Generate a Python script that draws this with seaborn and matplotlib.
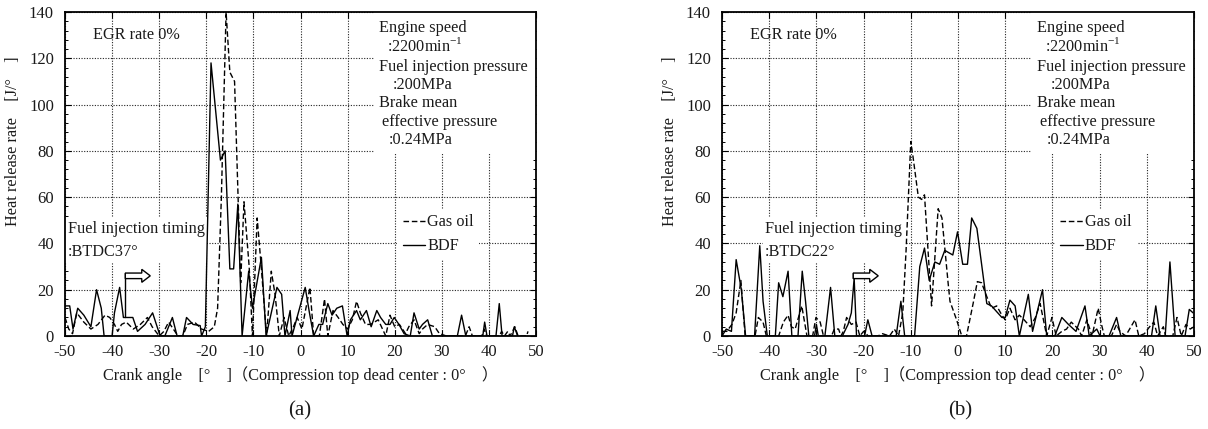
import matplotlib
matplotlib.use("Agg")
import matplotlib.pyplot as plt
import pandas as pd
import seaborn as sns
from matplotlib.patches import Rectangle, FancyArrow
from matplotlib.lines import Line2D
from matplotlib.ticker import MultipleLocator

# ---------------- data (crank angle [deg], heat release rate [J/deg]) ----------------
gas_oil_a = [(-50, 8), (-49.2, 3), (-48.4, 1), (-47.5, 10), (-46, 6), (-44.5, 3), (-43, 5),
             (-41.5, 9), (-40.5, 8), (-39.5, 5), (-38.8, 2), (-38, 5), (-37, 6), (-35.5, 3),
             (-34, 5), (-32.5, 8), (-31.5, 4), (-30, 0), (-29, 2), (-28, 6), (-27, 3), (-26, 0),
             (-25, 0), (-24, 5), (-22.5, 6), (-21, 3), (-19.5, 2), (-18.3, 4), (-17.6, 12),
             (-16.8, 60), (-15.8, 140), (-15, 114), (-14, 110), (-12.7, 23), (-12, 58),
             (-10.9, 30), (-10.2, 0), (-9.2, 51), (-8.3, 29), (-7.2, 0), (-6.2, 28), (-5.4, 18),
             (-4.5, 0), (-3.5, 8), (-2.5, 0), (-1.5, 4), (-0.7, 8), (0.3, 3), (2, 21), (2.8, 0),
             (4, 0), (5.1, 16), (5.8, 0), (6.9, 11), (8, 8), (9, 5), (10, 3), (11, 7), (11.9, 15),
             (12.7, 10), (13.8, 5), (14.9, 5), (16.5, 7), (18.1, 0), (19, 9), (20, 4), (21, 5),
             (22.3, 1), (23, 4), (24.1, 7), (25.2, 1), (25.9, 3), (27, 5), (28.5, 4), (29.5, 1),
             (31, 0), (35, 0), (35.8, 4), (36.5, 0), (38.5, 0), (39, 3), (39.5, 0), (42.2, 0),
             (42.7, 2), (43.3, 0), (44, 2), (44.5, 0), (45.5, 4), (46.2, 0), (48, 0), (48.3, 2)]

bdf_a = [(-50, 13), (-49, 13), (-48.3, 3), (-47.3, 12), (-46, 9), (-44.5, 4), (-43.3, 20),
         (-42.3, 12), (-41.7, 0), (-40, 0), (-39.5, 10), (-38.4, 21), (-37.6, 8), (-35.6, 8),
         (-34.6, 2), (-33, 5), (-31.4, 10), (-29.8, 0), (-28.8, 0), (-27.2, 8), (-26.2, 0),
         (-25, 0), (-24.2, 8), (-22.8, 5), (-21.3, 4.5), (-21, 0), (-20.2, 4), (-19.0, 118),
         (-17, 76), (-16, 80), (-15, 29), (-14.2, 29), (-13.3, 57), (-12.4, 0), (-11, 28),
         (-10.2, 12), (-8.3, 34), (-7.3, 0), (-5, 21), (-4, 18), (-3.3, 0), (-2.2, 11),
         (-1.8, 0), (1, 21), (1.9, 10), (2.8, 0), (3.9, 5), (4.7, 5), (5.8, 14), (6.7, 9),
         (7.7, 12), (8.9, 13), (9.9, 0), (10.6, 7), (11.9, 11), (12.7, 7), (14, 11), (15, 4),
         (16.2, 11), (17, 8), (18.1, 5), (19, 5), (19.9, 8), (20.9, 5), (22, 1), (23.3, 0),
         (24.1, 10), (25.2, 3), (25.9, 5), (27, 7), (28, 0), (33.3, 0), (34.2, 9), (35.1, 0),
         (38.7, 0), (39.1, 6), (39.6, 0), (41.5, 0), (42.2, 14), (42.8, 0), (45, 0), (45.4, 4),
         (46.1, 0)]

gas_oil_b = [(-50, 2), (-49, 2), (-47.9, 5), (-47, 10), (-46, 24), (-45.1, 0), (-43, 0),
             (-42.3, 8), (-41.3, 6), (-40.6, 0), (-38, 0), (-37, 6), (-36, 9), (-35.3, 4),
             (-34.5, 3), (-33.1, 13), (-32, 0), (-30.8, 0), (-30.1, 8), (-29.2, 6), (-28.5, 0),
             (-26.8, 0), (-26.2, 3), (-25.3, 3), (-24.8, 0), (-24.3, 2), (-23.6, 8), (-22.6, 5),
             (-21.6, 6), (-20.8, 0), (-20, 2), (-19, 0), (-17, 0), (-16, 1), (-14.5, 0),
             (-13.5, 3), (-12.6, 0), (-11.7, 10), (-11, 37), (-10, 84), (-9.5, 77), (-8.4, 60),
             (-7.7, 59), (-7.1, 61), (-5.6, 13), (-4.2, 55), (-3.4, 51), (-2.1, 23), (-1.7, 15),
             (-0.3, 7), (0.8, 0), (1.8, 0), (3.2, 14), (4.1, 23.5), (5, 23), (6.1, 17), (7.1, 12),
             (8.2, 13), (9.3, 9), (10, 7), (11, 12), (12.1, 7), (13, 9), (14, 7), (15.3, 4),
             (16.4, 8), (17.4, 14), (18.8, 0), (19.9, 8), (20.8, 0), (22, 2), (23, 3), (24, 6),
             (25.5, 3), (26.2, 0), (27.3, 7), (28.4, 0), (29.7, 12), (30.4, 5), (31, 0),
             (32.5, 0), (33.6, 5), (34.3, 2), (35.5, 0), (37.5, 7), (38.3, 0), (39.5, 1),
             (40.6, 4), (41.5, 6), (42.3, 0), (43.5, 4), (44, 0), (45.5, 0), (46.4, 8), (47.3, 0),
             (48.3, 5), (49.2, 3), (50, 4)]

bdf_b = [(-50, 0), (-49.1, 3), (-48, 2), (-47, 33), (-45.9, 20), (-45, 0), (-43.1, 0), (-42, 39),
         (-41.3, 15), (-40.4, 0), (-38.7, 0), (-38, 23), (-37.1, 17), (-36, 28), (-35.2, 0),
         (-33.9, 0), (-33, 28), (-32.3, 15), (-31.6, 0), (-30.4, 0), (-30, 5), (-29.6, 0),
         (-28.2, 0), (-27, 21), (-26.1, 0), (-24.5, 0), (-23.3, 5), (-22.6, 10), (-22, 25),
         (-21.5, 0), (-19.8, 0), (-19.1, 7), (-18.2, 0), (-13.1, 0), (-12.1, 15), (-11.3, 0),
         (-9.2, 0), (-8.1, 30), (-7.1, 38), (-6.1, 24), (-4.9, 32), (-3.9, 31), (-2.8, 37),
         (-1.1, 35), (-0.1, 45), (1, 31), (2, 31), (2.9, 51), (4, 46.5), (6.1, 14), (7.1, 13),
         (9.3, 8), (10, 8), (11, 15.5), (12.1, 13), (13, 0), (14.9, 18), (15.8, 2), (17.9, 20),
         (18.8, 0), (20.5, 0), (22, 8), (23.4, 5), (25, 2), (26.9, 13), (27.8, 0), (29.4, 3),
         (30.1, 0), (32, 0), (33.6, 8), (34.5, 0), (41, 0), (41.9, 13), (42.8, 0), (43.9, 0),
         (44.9, 32), (46, 0), (48.1, 0), (49, 11.5), (49.8, 10)]

fuels = ["Gas oil", "BDF"]
panel_labels = ["(a)", "(b)"]
injection_timing = [":BTDC37°", ":BTDC22°"]
injection_angle = [-37.2, -22.2]
x_ticks = list(range(-50, 51, 10))
y_ticks = list(range(0, 141, 20))
conditions = ["Engine speed", ":2200min$^{\\mathregular{-1}}$", "Fuel injection pressure",
              ":200MPa", "Brake mean", "effective pressure", ":0.24MPa"]
egr_text = "EGR rate 0%"

# ---------------- style ----------------
sns.set_theme(style="ticks")
plt.rcParams["font.family"] = ["Liberation Serif", "Noto Sans CJK JP"]
plt.rcParams["mathtext.fontset"] = "custom"
plt.rcParams["mathtext.rm"] = "Liberation Serif"
plt.rcParams["axes.unicode_minus"] = False
FS = 11.7
TFS = 12
TXT = "#1a1a1a"

fig = plt.figure(figsize=(12.08, 4.29), dpi=100)
W, H = 1208, 429
ax_a = fig.add_axes([65 / W, (H - 336) / H, 471 / W, 324 / H])
ax_b = fig.add_axes([722 / W, (H - 336) / H, 472 / W, 324 / H])


def make_df(gas, bdf):
    rows = [("Gas oil", x, y) for x, y in gas] + [("BDF", x, y) for x, y in bdf]
    return pd.DataFrame(rows, columns=["fuel", "angle", "rate"])


panels = [(ax_a, gas_oil_a, bdf_a, 0.0, 0.302, 8),
          (ax_b, gas_oil_b, bdf_b, 0.086, 0.388, 25)]

for i, (ax, gas, bdf, bx0, bx1, vbot) in enumerate(panels):
    df = make_df(gas, bdf)
    sns.lineplot(data=df, x="angle", y="rate", hue="fuel", style="fuel",
                 hue_order=fuels, style_order=fuels,
                 palette={"Gas oil": "black", "BDF": "black"},
                 dashes={"Gas oil": (4, 2), "BDF": ""},
                 estimator=None, sort=False, linewidth=1.0, legend=False, ax=ax, zorder=3)

    ax.set_xlim(-50, 50)
    ax.set_ylim(0, 140)
    ax.set_xticks(x_ticks)
    ax.set_yticks(y_ticks)
    ax.yaxis.set_minor_locator(MultipleLocator(4))
    ax.set_axisbelow(True)
    ax.grid(True, which="major", color="#222222", linestyle=(0, (1, 1.4)), linewidth=0.8)
    ax.tick_params(which="both", direction="in", top=True, right=True, colors="black",
                   labelcolor=TXT, labelsize=TFS)
    ax.tick_params(which="major", length=4, width=0.8)
    ax.tick_params(axis="x", pad=6)
    ax.tick_params(axis="y", pad=8)
    ax.tick_params(which="minor", length=2.5, width=0.7)
    for s in ax.spines.values():
        s.set_color("black")
        s.set_linewidth(1.3)

    ax.set_xlabel("Crank angle　[°　]（Compression top dead center : 0°　）", fontsize=FS, color=TXT)
    ax.xaxis.set_label_coords(0.50, -0.093)
    ax.set_ylabel("Heat release rate　[J/°　]", fontsize=FS, color=TXT)
    ax.yaxis.set_label_coords(-0.094, 0.60)

    # white boxes behind annotation texts
    ax.add_patch(Rectangle((0.655, 0.565), 0.345, 0.435, transform=ax.transAxes,
                           facecolor="white", edgecolor="none", zorder=1))
    ax.add_patch(Rectangle((bx0, 0.225), bx1 - bx0, 0.142, transform=ax.transAxes,
                           facecolor="white", edgecolor="none", zorder=1))

    ax.text(0.059, 0.929, egr_text, transform=ax.transAxes, fontsize=FS, color=TXT,
            va="center", ha="left", zorder=4)
    cond_pos = [(0.667, 0.951), (0.684, 0.896), (0.667, 0.830), (0.696, 0.775),
                (0.667, 0.719), (0.673, 0.660), (0.688, 0.605)]
    for t, (tx, ty) in zip(conditions, cond_pos):
        ax.text(tx, ty, t, transform=ax.transAxes, fontsize=FS, color=TXT,
                va="center", ha="left", zorder=4)

    tx0 = 0.006 if i == 0 else 0.091
    ax.text(tx0, 0.330, "Fuel injection timing", transform=ax.transAxes, fontsize=FS,
            color=TXT, va="center", ha="left", zorder=4)
    ax.text(tx0, 0.259, injection_timing[i], transform=ax.transAxes, fontsize=FS,
            color=TXT, va="center", ha="left", zorder=4)

    # injection timing marker arrow
    xa = injection_angle[i]
    ax.plot([xa, xa], [vbot, 27.2], color="black", lw=1.0, zorder=4)
    ax.add_patch(FancyArrow(xa, 26.0, 5.3, 0, width=2.4, head_width=5.6, head_length=1.8,
                            length_includes_head=True, facecolor="white", edgecolor="black",
                            lw=1.0, zorder=5))

    handles = [Line2D([], [], color="black", lw=1.0, dashes=(4, 2)),
               Line2D([], [], color="black", lw=1.0)]
    leg = ax.legend(handles, fuels, loc="upper left", bbox_to_anchor=(0.705, 0.393),
                    borderaxespad=0, frameon=True, facecolor="white", edgecolor="none",
                    framealpha=1, fancybox=False, handlelength=1.4, handletextpad=0.1,
                    borderpad=0.35, labelspacing=0.5, fontsize=FS)
    for t in leg.get_texts():
        t.set_color(TXT)
    leg.set_zorder(4)

fig.text(300 / W, 1 - 411 / H, panel_labels[0], fontsize=15, ha="center", va="center", color=TXT)
fig.text(960 / W, 1 - 411 / H, panel_labels[1], fontsize=15, ha="center", va="center", color=TXT)

fig.savefig("out.png", dpi=100, facecolor="white")
